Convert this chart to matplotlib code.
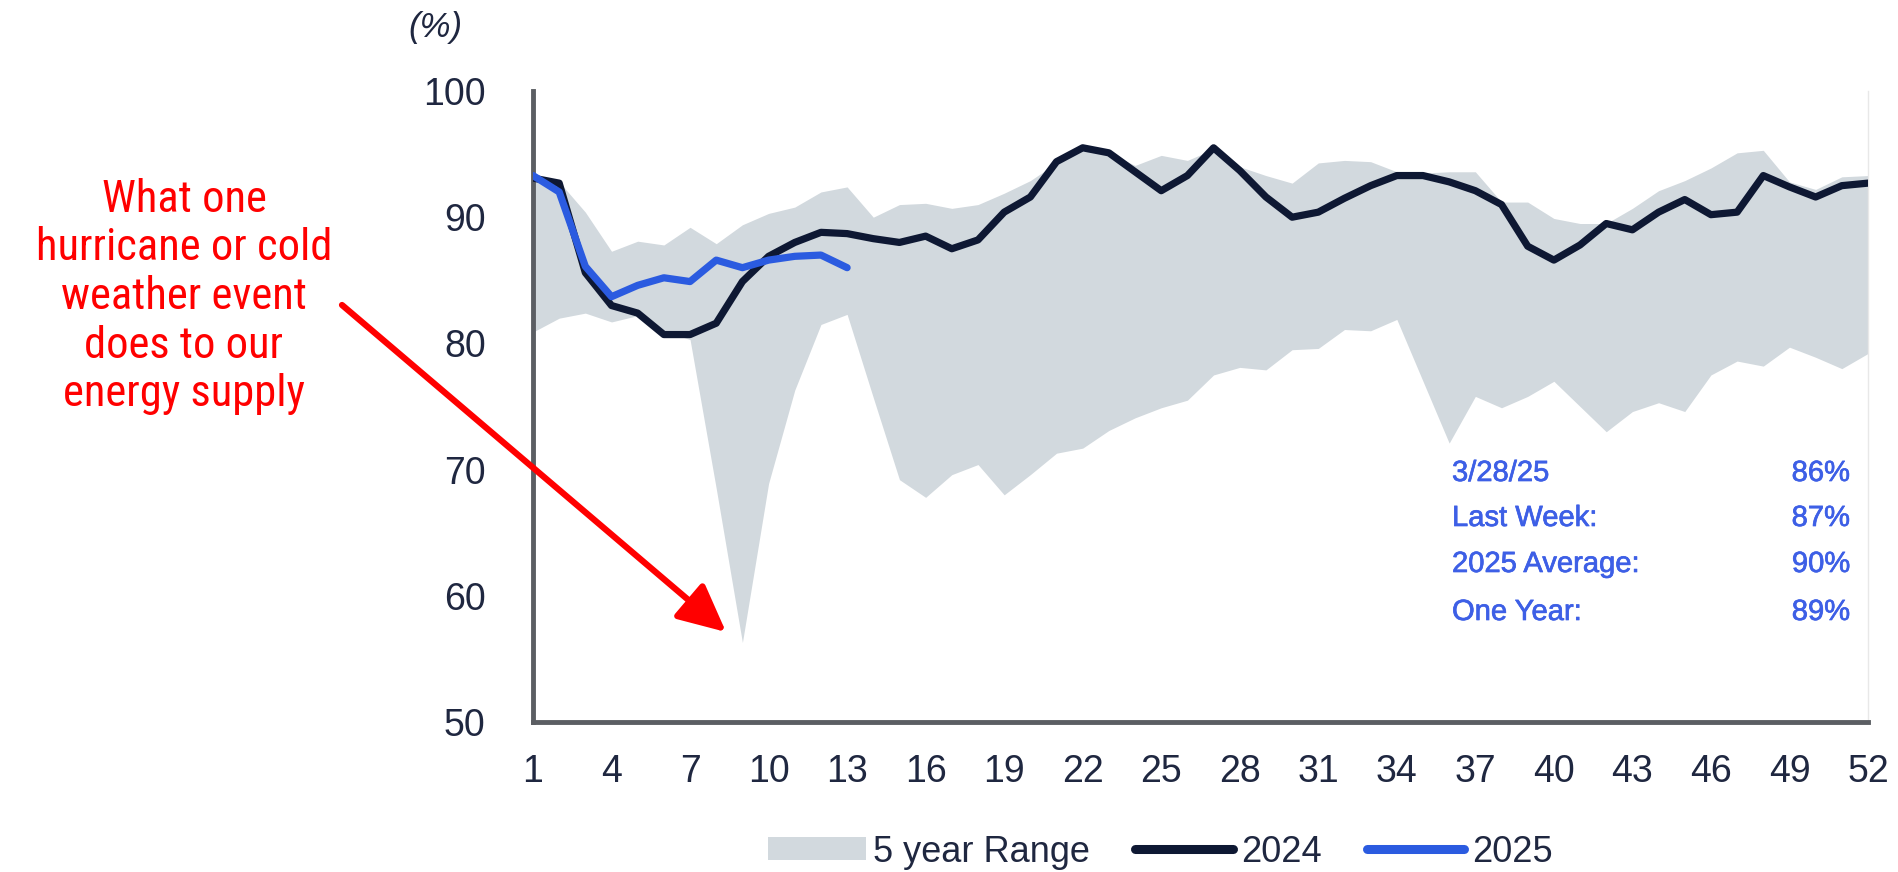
import matplotlib
matplotlib.use("Agg")
import matplotlib.pyplot as plt
from matplotlib import font_manager as fm
from matplotlib.patches import FancyArrowPatch, Patch
from matplotlib.lines import Line2D
import matplotlib.patheffects as pe

weeks = list(range(1, 53))

range_low = [80.9, 82.0, 82.4, 81.7, 82.2, 81.0, 80.3, 68.5, 56.3, 68.9,
             76.3, 81.5, 82.3, 75.7, 69.2, 67.8, 69.6, 70.4, 68.0, 69.6,
             71.3, 71.7, 73.1, 74.1, 74.9, 75.5, 77.5, 78.1, 77.9, 79.5,
             79.6, 81.1, 81.0, 81.9, 77.0, 72.1, 75.8, 74.9, 75.8, 77.0,
             75.0, 73.0, 74.6, 75.3, 74.6, 77.5, 78.6, 78.2, 79.7, 78.9,
             78.0, 79.2]
range_high = [93.2, 92.8, 90.4, 87.3, 88.1, 87.8, 89.2, 87.9, 89.4, 90.3,
              90.8, 92.0, 92.4, 90.0, 91.0, 91.1, 90.7, 91.0, 91.9, 92.9,
              94.3, 95.4, 95.1, 94.1, 94.9, 94.5, 95.4, 94.0, 93.3, 92.7,
              94.3, 94.5, 94.4, 93.6, 93.5, 93.6, 93.6, 91.2, 91.2, 89.9,
              89.5, 89.5, 90.7, 92.1, 92.9, 93.9, 95.1, 95.3, 92.8, 92.2,
              93.2, 93.3]
y2024 = [93.1, 92.7, 85.6, 83.0, 82.4, 80.7, 80.7, 81.6, 84.9, 86.9,
         88.0, 88.8, 88.7, 88.3, 88.0, 88.5, 87.5, 88.2, 90.4, 91.6,
         94.4, 95.5, 95.1, 93.6, 92.1, 93.3, 95.5, 93.7, 91.6, 90.0,
         90.4, 91.5, 92.5, 93.3, 93.3, 92.8, 92.1, 91.0, 87.7, 86.6,
         87.8, 89.5, 89.0, 90.4, 91.4, 90.2, 90.4, 93.3, 92.4, 91.6,
         92.5, 92.7]
y2025 = [93.3, 92.0, 86.1, 83.7, 84.6, 85.2, 84.9, 86.6, 86.0, 86.6,
         86.9, 87.0, 86.0]

xticks = list(range(1, 53, 3))
yticks = [50, 60, 70, 80, 90, 100]

stat_labels = ["3/28/25", "Last Week:", "2025 Average:", "One Year:"]
stat_values = ["86%", "87%", "90%", "89%"]

legend_labels = ["5 year Range", "2024", "2025"]
annotation = "What one\nhurricane or cold\nweather event\ndoes to our\nenergy supply"

BAND = "#d2d9de"
NAVY = "#0e1833"
BLUE = "#2b5be0"
STAT = "#3d5fe6"
TICK = "#1f2740"


def narrow_font():
    for fam in ["Liberation Sans Narrow", "Arial Narrow", "Roboto Condensed",
                "Open Sans Condensed", "DejaVu Sans Condensed"]:
        try:
            fm.findfont(fm.FontProperties(family=fam), fallback_to_default=False)
            return {"family": fam}, True
        except Exception:
            pass
    for f in fm.fontManager.ttflist:
        if f.name == "DejaVu Sans" and str(f.stretch) in (
                "condensed", "semi-condensed", "375", "400"):
            return {"family": "DejaVu Sans", "stretch": f.stretch}, True
    return {"family": "DejaVu Sans"}, False


NARROW, is_narrow = narrow_font()

W, H = 1898, 872
fig = plt.figure(figsize=(W / 100, H / 100), dpi=100)
ax = fig.add_axes([533 / W, 1 - 722 / H, (1868 - 533) / W, (722 - 91) / H])

ax.fill_between(weeks, range_low, range_high, color=BAND, lw=0, zorder=1)
ax.plot(weeks, y2024, color=NAVY, lw=5.2, solid_joinstyle="round",
        solid_capstyle="round", zorder=3)
ax.plot(weeks[:len(y2025)], y2025, color=BLUE, lw=5.2,
        solid_joinstyle="round", solid_capstyle="round", zorder=4)

ax.set_xlim(1, 52)
ax.set_ylim(50, 100)
ax.set_xticks(xticks)
ax.set_yticks(yticks)
ax.tick_params(length=0, labelsize=27, labelcolor=TICK)
ax.tick_params(axis="y", pad=34)
ax.tick_params(axis="x", pad=23)
for lab in ax.get_xticklabels() + ax.get_yticklabels():
    lab.set_fontfamily("Liberation Sans")

ax.spines["top"].set_visible(False)
ax.spines["right"].set_color("#e8e8e8")
ax.spines["right"].set_linewidth(1)
for s in ["left", "bottom"]:
    ax.spines[s].set_color("#5b5e63")
    ax.spines[s].set_linewidth(3.5)

fig.text(435 / W, 1 - 28 / H, "(%)", ha="center", va="center",
         fontsize=25, color=TICK, family="Liberation Sans", style="italic")

# stats box
ys = [473, 518, 564, 612]
fx = [pe.withStroke(linewidth=0.5, foreground=STAT)]
for lab, val, yy in zip(stat_labels, stat_values, ys):
    fig.text(1452 / W, 1 - yy / H, lab, ha="left", va="center",
             fontsize=21, color=STAT, family="Liberation Sans",
             path_effects=fx)
    fig.text(1850 / W, 1 - yy / H, val, ha="right", va="center",
             fontsize=21, color=STAT, family="Liberation Sans",
             path_effects=fx)

# annotation
fig.text(184 / W, 1 - 297 / H, annotation, ha="center", va="center",
         fontsize=32 if is_narrow else 25, color="#ff0000",
         linespacing=1.2 if is_narrow else 1.35, **NARROW)
arrow = FancyArrowPatch((342 / W, 1 - 305 / H), (726 / W, 1 - 632 / H),
                        transform=fig.transFigure,
                        arrowstyle="-|>,head_length=29,head_width=14",
                        mutation_scale=1, color="#ff0000", lw=4.5,
                        shrinkA=0, shrinkB=0)
fig.patches.append(arrow)

handles = [Patch(facecolor=BAND, edgecolor="none"),
           Line2D([], [], color=NAVY, lw=6.5, solid_capstyle="round"),
           Line2D([], [], color=BLUE, lw=6.5, solid_capstyle="round")]
leg = fig.legend(handles, legend_labels, loc="center left",
                 bbox_to_anchor=(768 / W, 1 - 852 / H), ncol=3,
                 frameon=False, borderpad=0, borderaxespad=0,
                 handlelength=2.7, handleheight=0.62, handletextpad=0.22,
                 columnspacing=1.25,
                 prop={"family": "Liberation Sans", "size": 26})
for t in leg.get_texts():
    t.set_color(TICK)

fig.savefig("out.png", dpi=100)
